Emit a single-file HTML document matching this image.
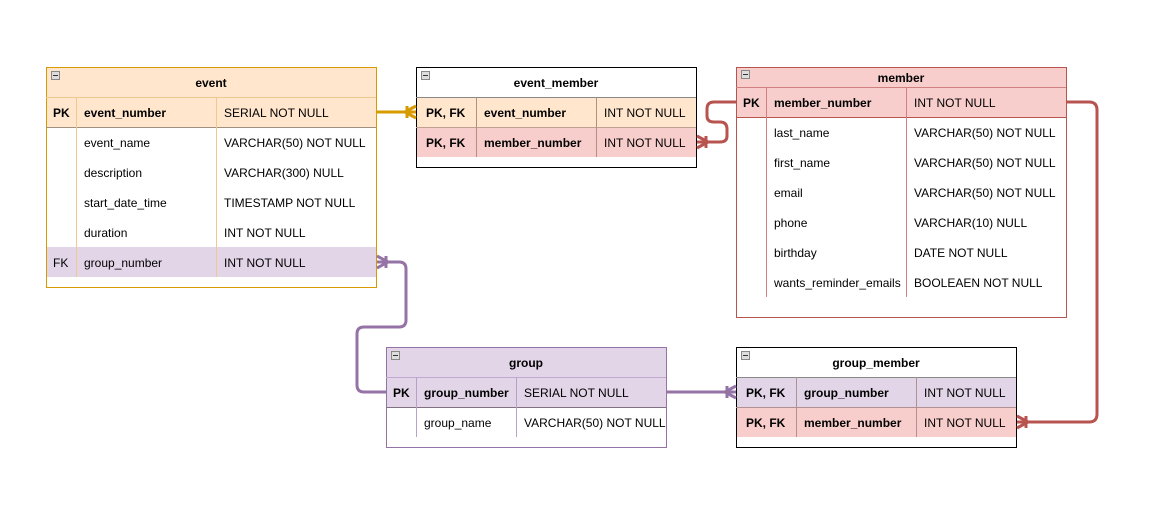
<!DOCTYPE html>
<html><head><meta charset="utf-8"><style>
html,body{margin:0;padding:0;background:#fff;}
svg{display:block;}
text{font-family:"Liberation Sans",Arial,sans-serif;font-size:12px;fill:#000;}
.b{font-weight:bold;}
</style></head><body>
<svg width="1155" height="518" viewBox="0 0 1155 518" xmlns="http://www.w3.org/2000/svg">
<!-- ===== event ===== -->
<rect x="46.5" y="67.5" width="330" height="220" fill="#fff" stroke="#d79b00"/>
<rect x="47" y="68" width="329" height="29" fill="#ffe6cc"/>
<rect x="47" y="97" width="329" height="30" fill="#ffe6cc"/>
<rect x="47" y="247" width="329" height="30" fill="#e1d5e7"/>
<line x1="46" y1="97.5" x2="376" y2="97.5" stroke="#f0c890"/>
<line x1="46" y1="127.5" x2="376" y2="127.5" stroke="#a09080"/>
<line x1="76.5" y1="97" x2="76.5" y2="277" stroke="#f0c890"/>
<line x1="216.5" y1="97" x2="216.5" y2="277" stroke="#f0c890"/>
<rect x="51.5" y="71.5" width="8" height="8" fill="#ddd" stroke="#888"/><line x1="53" y1="75.5" x2="58" y2="75.5" stroke="#333"/>
<text x="211" y="87" text-anchor="middle" class="b">event</text>
<text x="53" y="117" class="b">PK</text><text x="84" y="117" class="b">event_number</text><text x="224" y="117">SERIAL NOT NULL</text>
<text x="84" y="147">event_name</text><text x="224" y="147">VARCHAR(50) NOT NULL</text>
<text x="84" y="177">description</text><text x="224" y="177">VARCHAR(300) NULL</text>
<text x="84" y="207">start_date_time</text><text x="224" y="207">TIMESTAMP NOT NULL</text>
<text x="84" y="237">duration</text><text x="224" y="237">INT NOT NULL</text>
<text x="53" y="267">FK</text><text x="84" y="267">group_number</text><text x="224" y="267">INT NOT NULL</text>

<!-- ===== event_member ===== -->
<rect x="416.5" y="67.5" width="280" height="100" fill="#fff" stroke="#000"/>
<rect x="417" y="97" width="279" height="30" fill="#ffe6cc"/>
<rect x="417" y="127" width="279" height="30" fill="#f8cecc"/>
<line x1="416" y1="97.5" x2="696" y2="97.5" stroke="#888"/>
<line x1="416" y1="127.5" x2="696" y2="127.5" stroke="#c0a090"/>
<line x1="476.5" y1="97" x2="476.5" y2="157" stroke="#b09080"/>
<line x1="596.5" y1="97" x2="596.5" y2="157" stroke="#b09080"/>
<rect x="421.5" y="71.5" width="8" height="8" fill="#ddd" stroke="#888"/><line x1="423" y1="75.5" x2="428" y2="75.5" stroke="#333"/>
<text x="556" y="87" text-anchor="middle" class="b">event_member</text>
<text x="426" y="117" class="b">PK, FK</text><text x="484" y="117" class="b">event_number</text><text x="604" y="117">INT NOT NULL</text>
<text x="426" y="147" class="b">PK, FK</text><text x="484" y="147" class="b">member_number</text><text x="604" y="147">INT NOT NULL</text>

<!-- ===== member ===== -->
<rect x="736.5" y="67.5" width="330" height="250" fill="#fff" stroke="#b85450"/>
<rect x="737" y="68" width="329" height="49" fill="#f8cecc"/>
<line x1="736" y1="87.5" x2="1066" y2="87.5" stroke="#d08080"/>
<line x1="736" y1="117.5" x2="1066" y2="117.5" stroke="#b85450"/>
<line x1="766.5" y1="87" x2="766.5" y2="297" stroke="#d08080"/>
<line x1="906.5" y1="87" x2="906.5" y2="297" stroke="#d08080"/>
<rect x="741.5" y="70.5" width="8" height="8" fill="#ddd" stroke="#888"/><line x1="743" y1="74.5" x2="748" y2="74.5" stroke="#333"/>
<text x="901" y="82" text-anchor="middle" class="b">member</text>
<text x="743" y="107" class="b">PK</text><text x="774" y="107" class="b">member_number</text><text x="914" y="107">INT NOT NULL</text>
<text x="774" y="137">last_name</text><text x="914" y="137">VARCHAR(50) NOT NULL</text>
<text x="774" y="167">first_name</text><text x="914" y="167">VARCHAR(50) NOT NULL</text>
<text x="774" y="197">email</text><text x="914" y="197">VARCHAR(50) NOT NULL</text>
<text x="774" y="227">phone</text><text x="914" y="227">VARCHAR(10) NULL</text>
<text x="774" y="257">birthday</text><text x="914" y="257">DATE NOT NULL</text>
<text x="774" y="287">wants_reminder_emails</text><text x="914" y="287">BOOLEAEN NOT NULL</text>

<!-- ===== group ===== -->
<rect x="386.5" y="347.5" width="280" height="100" fill="#fff" stroke="#9673a6"/>
<rect x="387" y="348" width="279" height="59" fill="#e1d5e7"/>
<line x1="386" y1="377.5" x2="666" y2="377.5" stroke="#c0a8d0"/>
<line x1="386" y1="407.5" x2="666" y2="407.5" stroke="#807080"/>
<line x1="416.5" y1="377" x2="416.5" y2="437" stroke="#b8a0c8"/>
<line x1="516.5" y1="377" x2="516.5" y2="437" stroke="#b8a0c8"/>
<rect x="391.5" y="351.5" width="8" height="8" fill="#ddd" stroke="#888"/><line x1="393" y1="355.5" x2="398" y2="355.5" stroke="#333"/>
<text x="526" y="367" text-anchor="middle" class="b">group</text>
<text x="393" y="397" class="b">PK</text><text x="424" y="397" class="b">group_number</text><text x="524" y="397">SERIAL NOT NULL</text>
<text x="424" y="427">group_name</text><text x="524" y="427">VARCHAR(50) NOT NULL</text>

<!-- ===== group_member ===== -->
<rect x="736.5" y="347.5" width="280" height="100" fill="#fff" stroke="#000"/>
<rect x="737" y="377" width="279" height="30" fill="#e1d5e7"/>
<rect x="737" y="407" width="279" height="30" fill="#f8cecc"/>
<line x1="736" y1="377.5" x2="1016" y2="377.5" stroke="#888"/>
<line x1="736" y1="407.5" x2="1016" y2="407.5" stroke="#b09090"/>
<line x1="796.5" y1="377" x2="796.5" y2="437" stroke="#b09090"/>
<line x1="916.5" y1="377" x2="916.5" y2="437" stroke="#b09090"/>
<rect x="741.5" y="351.5" width="8" height="8" fill="#ddd" stroke="#888"/><line x1="743" y1="355.5" x2="748" y2="355.5" stroke="#333"/>
<text x="876" y="367" text-anchor="middle" class="b">group_member</text>
<text x="746" y="397" class="b">PK, FK</text><text x="804" y="397" class="b">group_number</text><text x="924" y="397">INT NOT NULL</text>
<text x="746" y="427" class="b">PK, FK</text><text x="804" y="427" class="b">member_number</text><text x="924" y="427">INT NOT NULL</text>

<!-- ===== connectors ===== -->
<g fill="none" stroke-width="3" stroke-linejoin="round">
<!-- event -> event_member -->
<g stroke="#d79b00">
<path d="M377,112 L416,112"/>
<path d="M405,112 L416,106 M405,112 L416,118"/>
<path d="M407,106 L407,118"/>
</g>
<!-- member -> event_member -->
<g stroke="#b85450">
<path d="M736,102 L714,102 Q707,102 707,109 L707,116 Q707,122 714,122 L720,122 Q727,122 727,129 L727,136 Q727,142 720,142 L697,142"/>
<path d="M708,142 L697,136 M708,142 L697,148"/>
<path d="M706,136 L706,148"/>
</g>
<!-- member -> group_member -->
<g stroke="#b85450">
<path d="M1066,102 L1089,102 Q1097,102 1097,110 L1097,414 Q1097,422 1089,422 L1017,422"/>
<path d="M1028,422 L1017,416 M1028,422 L1017,428"/>
<path d="M1026,416 L1026,428"/>
</g>
<!-- group -> event -->
<g stroke="#9673a6">
<path d="M386,392 L364,392 Q357,392 357,385 L357,334 Q357,327 364,327 L399,327 Q406,327 406,320 L406,269 Q406,262 399,262 L377,262"/>
<path d="M388,262 L377,256 M388,262 L377,268"/>
<path d="M386,256 L386,268"/>
</g>
<!-- group -> group_member -->
<g stroke="#9673a6">
<path d="M667,392 L736,392"/>
<path d="M725,392 L736,386 M725,392 L736,398"/>
<path d="M727,386 L727,398"/>
</g>
</g>
</svg>
</body></html>
